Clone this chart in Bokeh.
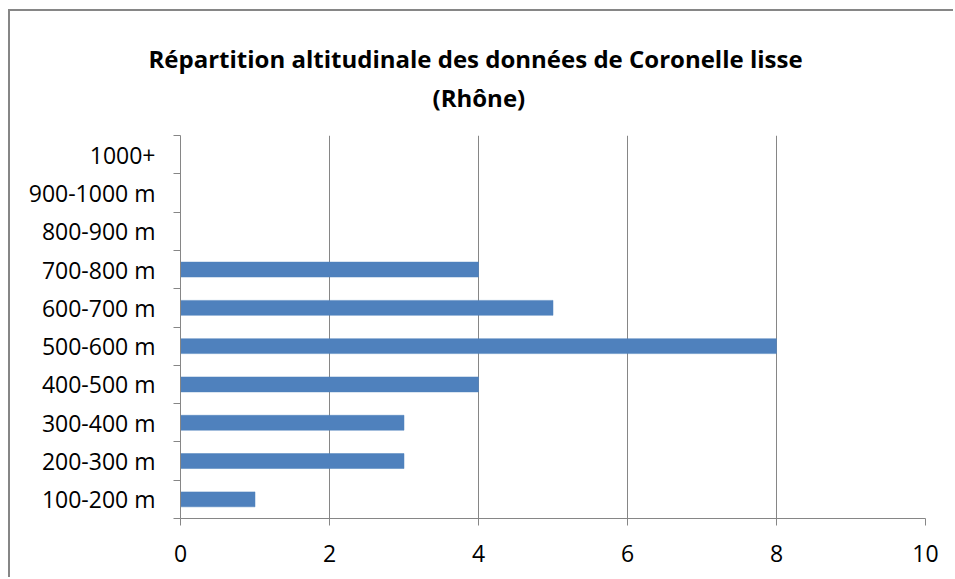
from bokeh.plotting import figure
from bokeh.models import FixedTicker, Title, Range1d, ColumnDataSource, CustomJSTickFormatter
from bokeh.embed import file_html
from bokeh.resources import INLINE

categories = ["100-200 m", "200-300 m", "300-400 m", "400-500 m", "500-600 m",
              "600-700 m", "700-800 m", "800-900 m", "900-1000 m", "1000+"]
counts = [1, 3, 3, 4, 8, 5, 4, 0, 0, 0]
x_ticks = [0, 2, 4, 6, 8, 10]
title_lines = ["Répartition altitudinale des données de Coronelle lisse", "(Rhône)"]

GRAY = "#868686"
FONT = "Open Sans"

centers = [i + 0.5 for i in range(len(categories))]
boundaries = list(range(len(categories) + 1))

src = ColumnDataSource(dict(y=centers, v=counts, cat=categories))

p = figure(width=945, height=568, x_range=Range1d(x_ticks[0], x_ticks[-1]),
           y_range=Range1d(0, len(categories)), output_backend="svg",
           toolbar_location=None, min_border_left=170, min_border_right=30,
           min_border_top=124, min_border_bottom=61)
p.margin = (9, 0, 0, 8)
p.styles = {"border-left": f"2px solid {GRAY}", "border-top": f"2px solid {GRAY}"}
p.outline_line_color = None

p.hbar(y="y", right="v", left=0, height=0.39, source=src,
       fill_color="#4F81BD", line_color="#4F81BD", line_width=0.5)

# y axis
ya = p.yaxis[0]
ya.ticker = FixedTicker(ticks=centers, minor_ticks=boundaries)
ya.formatter = CustomJSTickFormatter(args=dict(cats=categories),
                                     code="const i = Math.round(tick - 0.5); return (i >= 0 && i < cats.length) ? cats[i] : '';")
ya.major_tick_in = 0
ya.major_tick_out = 0
ya.minor_tick_in = 0
ya.minor_tick_out = 7
ya.minor_tick_line_color = GRAY
ya.axis_line_color = GRAY
ya.major_label_standoff = 18
ya.major_label_text_font = FONT
ya.major_label_text_font_size = "23px"
ya.major_label_text_color = "black"

# x axis
xa = p.xaxis[0]
xa.ticker = FixedTicker(ticks=x_ticks)
xa.major_tick_in = 0
xa.major_tick_out = 7
xa.minor_tick_out = 0
xa.major_tick_line_color = GRAY
xa.axis_line_color = GRAY
xa.major_label_standoff = 19
xa.major_label_text_font = FONT
xa.major_label_text_font_size = "23px"
xa.major_label_text_color = "black"

p.ygrid.visible = False
p.xgrid.ticker = FixedTicker(ticks=x_ticks)
p.xgrid.grid_line_color = GRAY

# title: second line first (closest to frame), then first line above it
for txt, off, so in [(title_lines[1], 252, 44), (title_lines[0], -32, -36)]:
    p.add_layout(Title(text=txt, align="left", offset=off, standoff=so,
                       text_font=FONT, text_font_style="bold",
                       text_font_size="24px", text_color="black"), "above")

open("out.html", "w").write(file_html(p, INLINE))
